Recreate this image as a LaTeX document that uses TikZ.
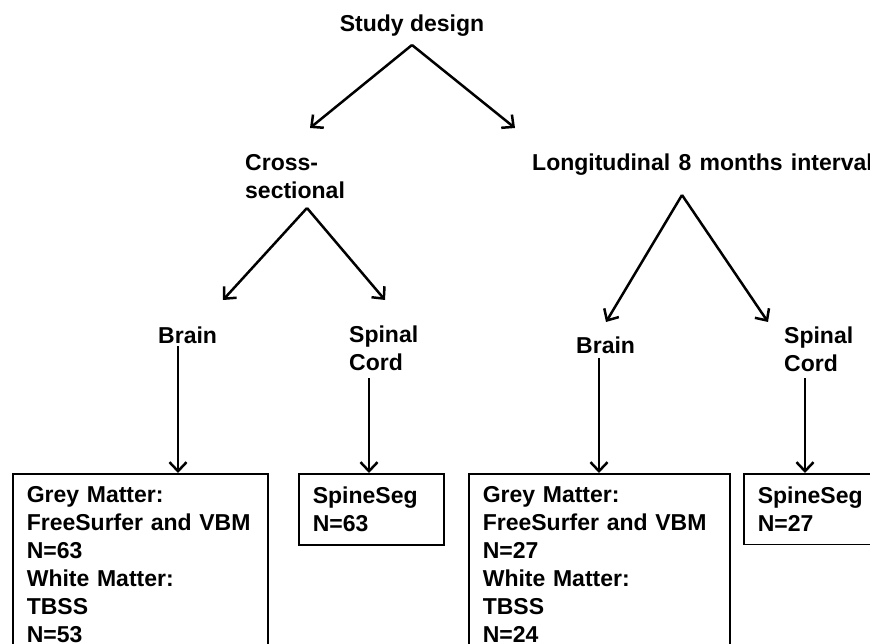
\documentclass[tikz,border=0pt]{standalone}
\usepackage{fontspec}
\setmainfont{Liberation Sans}
\newfontfamily\wideface{Liberation Sans}[WordSpace=1.3]
\usepackage{tikz}
\usetikzlibrary{
    arrows.meta,
    positioning
}
\tikzset{
    % Base style for all texts
    plain base/.style={
        font=\fontsize{23}{28}\selectfont\bfseries,
        align=left,
        text=black,
    },
    % Level labels - bare text, no frame
    label text/.style={
        plain base,
        inner sep=0pt,
        anchor=base west,
    },
    % Result boxes - framed, left aligned lines
    result/.style={
        plain base,
        rectangle,
        draw=black,
        line width=1.6pt,
        anchor=north west,
        inner xsep=14pt,
        inner ysep=13pt,
    },
    % Arrow with open barb head
    arrow/.style={
        -{Straight Barb[length=9pt, width=17pt]},
        line width=2.5pt,
        draw=black,
    },
}

\begin{document}
\begin{tikzpicture}[x=1pt, y=-1pt]
    \useasboundingbox (0,0) rectangle (870,644);
    \clip (0,0) rectangle (870,644);

    \node (study) [label text, anchor=base] at (412,32) {Study design};
    \node (cross) [label text] at (245,199) {Cross-\\sectional};
    \node (longi) [label text, font=\fontsize{23}{28}\wideface\bfseries] at (532,171) {Longitudinal 8 months interval};

    \node (brainL) [label text] at (158,343) {Brain};
    \node (cordL) [label text] at (349,370) {Spinal\\Cord};
    \node (brainR) [label text] at (576,353) {Brain};
    \node (cordR) [label text] at (784,371) {Spinal\\Cord};

    \node (greyL) [result, text width=227pt, text depth=200pt] at (12,473) {Grey Matter:\\FreeSurfer and VBM\\N=63\\White Matter:\\TBSS\\N=53};
    \node (segL) [result, text width=117pt] at (298,473) {SpineSeg\\N=63};
    \node (greyR) [result, text width=233pt, text depth=200pt] at (468,473) {Grey Matter:\\FreeSurfer and VBM\\N=27\\White Matter:\\TBSS\\N=24};
    \node (segR) [result, text width=117pt] at (743,473) {SpineSeg\\N=27};

    \draw [arrow] ([yshift=-13]study.base) -- ([xshift=65,yshift=71]cross.base west);
    \draw [arrow] ([yshift=-13]study.base) -- ([xshift=-17,yshift=43]longi.base west);
    \draw [arrow] ([xshift=62,yshift=-9]cross.base west) -- ([xshift=65,yshift=43]brainL.base west);
    \draw [arrow] ([xshift=62,yshift=-9]cross.base west) -- ([xshift=36,yshift=70]cordL.base west);
    \draw [arrow] ([xshift=150,yshift=-24]longi.base west) -- ([xshift=30,yshift=31]brainR.base west);
    \draw [arrow] ([xshift=150,yshift=-24]longi.base west) -- ([xshift=-16,yshift=49]cordR.base west);

    \draw [arrow] ([xshift=20,yshift=-3]brainL.base west) -- ([xshift=20]brainL.base west |- greyL.north);
    \draw [arrow] ([xshift=20,yshift=-8]cordL.base west) -- ([xshift=20]cordL.base west |- segL.north);
    \draw [arrow] ([xshift=23,yshift=-5]brainR.base west) -- ([xshift=23]brainR.base west |- greyR.north);
    \draw [arrow] ([xshift=21,yshift=-7]cordR.base west) -- ([xshift=21]cordR.base west |- segR.north);
\end{tikzpicture}
\end{document}
